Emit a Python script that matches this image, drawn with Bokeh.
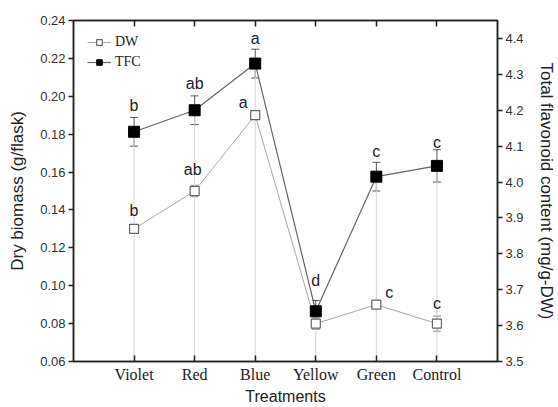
from bokeh.plotting import figure
from bokeh.models import (Range1d, LinearAxis, FixedTicker, Legend, LegendItem,
                          ColumnDataSource, Whisker, TeeHead, PrintfTickFormatter)
from bokeh.embed import file_html
from bokeh.resources import INLINE
from bokeh.core.properties import value

# ---------------- data ----------------
treatments = ["Violet", "Red", "Blue", "Yellow", "Green", "Control"]
dw = [0.130, 0.150, 0.190, 0.080, 0.090, 0.080]
dw_err = [0.002, 0.003, 0.002, 0.003, 0.002, 0.004]
tfc = [4.14, 4.20, 4.33, 3.64, 4.015, 4.045]
tfc_err = [0.04, 0.04, 0.04, 0.03, 0.04, 0.045]
dw_letters = ["b", "ab", "a", "", "c", "c"]
tfc_letters = ["b", "ab", "a", "d", "c", "c"]
left_ticks = [0.06, 0.08, 0.10, 0.12, 0.14, 0.16, 0.18, 0.20, 0.22, 0.24]
right_ticks = [3.5, 3.6, 3.7, 3.8, 3.9, 4.0, 4.1, 4.2, 4.3, 4.4]

# label offsets (styling, px)
dw_lab_dx = [0, -2, -12, 0, 13, 0]
dw_lab_dy = [-18, -22, -13, 0, -12, -20]
tfc_lab_dy = [-26, -27, -25, -31, -25, -23]

xs = list(range(1, len(treatments) + 1))

src = ColumnDataSource(dict(
    x=xs, dw=dw, tfc=tfc,
    dw_lo=[v - e for v, e in zip(dw, dw_err)], dw_hi=[v + e for v, e in zip(dw, dw_err)],
    tfc_lo=[v - e for v, e in zip(tfc, tfc_err)], tfc_hi=[v + e for v, e in zip(tfc, tfc_err)],
    base=[3.5] * len(xs),
    dw_lab=dw_letters, tfc_lab=tfc_letters,
    dw_dx=dw_lab_dx, dw_dy=dw_lab_dy, tfc_dy=tfc_lab_dy,
))

p = figure(width=558, height=407, output_backend="svg", toolbar_location=None,
           x_range=Range1d(0, 7), y_range=Range1d(0.06, 0.24),
           min_border_left=73, min_border_right=58, min_border_top=20, min_border_bottom=44)
p.extra_y_ranges = {"tfc": Range1d(3.5, 4.45)}
p.xgrid.visible = False
p.ygrid.visible = False
p.outline_line_color = "#222222"
p.outline_line_width = 1.5
p.background_fill_color = "white"
p.border_fill_color = "white"

axis_color = "#222222"
sans = "Liberation Sans"
serif = "Liberation Serif"

# bottom axis
xa = p.xaxis[0]
xa.ticker = FixedTicker(ticks=xs)
xa.major_label_overrides = {i: t for i, t in zip(xs, treatments)}
xa.major_tick_in = 6
xa.major_tick_out = 0
xa.minor_tick_line_color = None
xa.axis_line_width = 1.5
xa.axis_line_color = axis_color
xa.major_tick_line_color = axis_color
xa.major_tick_line_width = 1.5
xa.major_label_text_font = serif
xa.major_label_text_font_size = "16px"
xa.major_label_text_color = "#222222"
xa.major_label_standoff = 4
xa.axis_label = "Treatments"
xa.axis_label_text_font = sans
xa.axis_label_text_font_style = "normal"
xa.axis_label_text_font_size = "16px"
xa.axis_label_text_color = "#222222"
xa.axis_label_standoff = 2

# left axis
ya = p.yaxis[0]
ya.ticker = FixedTicker(ticks=left_ticks)
ya.formatter = PrintfTickFormatter(format="%.2f")
ya.major_tick_in = 0
ya.major_tick_out = 5
ya.minor_tick_line_color = None
ya.axis_line_width = 1.5
ya.axis_line_color = axis_color
ya.major_tick_line_color = axis_color
ya.major_tick_line_width = 1.5
ya.major_label_text_font = sans
ya.major_label_text_font_size = "13px"
ya.major_label_text_color = "#333333"
ya.major_label_standoff = 3
ya.axis_label = "Dry biomass (g/flask)"
ya.axis_label_text_font = sans
ya.axis_label_text_font_style = "normal"
ya.axis_label_text_font_size = "17px"
ya.axis_label_text_color = "#222222"
ya.axis_label_standoff = 10

# right axis
ra = LinearAxis(y_range_name="tfc", ticker=FixedTicker(ticks=right_ticks),
                formatter=PrintfTickFormatter(format="%.1f"))
ra.major_tick_in = 0
ra.major_tick_out = 5
ra.minor_tick_line_color = None
ra.axis_line_width = 1.5
ra.axis_line_color = axis_color
ra.major_tick_line_color = axis_color
ra.major_tick_line_width = 1.5
ra.major_label_text_font = sans
ra.major_label_text_font_size = "13px"
ra.major_label_text_color = "#333333"
ra.major_label_standoff = 3
ra.axis_label = "Total flavonoid content (mg/g-DW)"
ra.axis_label_text_font = sans
ra.axis_label_text_font_style = "normal"
ra.axis_label_text_font_size = "17px"
ra.axis_label_text_color = "#222222"
ra.axis_label_standoff = 10
p.add_layout(ra, "right")

# top axis (ticks only)
ta = LinearAxis(ticker=FixedTicker(ticks=xs))
ta.major_tick_in = 6
ta.major_tick_out = 0
ta.minor_tick_line_color = None
ta.axis_line_width = 1.5
ta.axis_line_color = axis_color
ta.major_tick_line_color = axis_color
ta.major_tick_line_width = 1.5
ta.major_label_text_font_size = "0px"
ta.major_label_text_alpha = 0
p.add_layout(ta, "above")

# drop lines
p.segment(x0="x", y0="base", x1="x", y1="tfc", source=src, y_range_name="tfc",
          line_color="#d4d4d4", line_width=1)

# error bars
w_dw = Whisker(base="x", lower="dw_lo", upper="dw_hi", source=src,
               line_color="#888888", line_width=1,
               upper_head=TeeHead(size=8, line_color="#888888", line_width=1),
               lower_head=TeeHead(size=8, line_color="#888888", line_width=1))
p.add_layout(w_dw)
w_tfc = Whisker(base="x", lower="tfc_lo", upper="tfc_hi", source=src, y_range_name="tfc",
                line_color="#555555", line_width=1,
                upper_head=TeeHead(size=8, line_color="#555555", line_width=1),
                lower_head=TeeHead(size=8, line_color="#555555", line_width=1))
p.add_layout(w_tfc)

# series
l_dw = p.line("x", "dw", source=src, line_color="#a8a8a8", line_width=1)
m_dw = p.scatter("x", "dw", source=src, marker="square", size=9,
                 fill_color="white", line_color="#666666", line_width=1.2)
l_tfc = p.line("x", "tfc", source=src, y_range_name="tfc", line_color="#666666", line_width=1.2)
m_tfc = p.scatter("x", "tfc", source=src, y_range_name="tfc", marker="square", size=11,
                  fill_color="black", line_color="black")

# significance letters
p.text("x", "dw", text="dw_lab", source=src, x_offset="dw_dx", y_offset="dw_dy",
       text_align="center", text_baseline="middle", text_font=value(sans),
       text_font_size="16px", text_color="#222222")
p.text("x", "tfc", text="tfc_lab", source=src, y_range_name="tfc", y_offset="tfc_dy",
       text_align="center", text_baseline="middle", text_font=value(sans),
       text_font_size="16px", text_color="#222222")

legend = Legend(items=[LegendItem(label="DW", renderers=[l_dw, m_dw]),
                       LegendItem(label="TFC", renderers=[l_tfc, m_tfc])],
                location="top_left", margin=14, padding=0, spacing=4,
                glyph_width=24, glyph_height=14, label_height=14,
                label_text_font=serif, label_text_font_size="14px",
                label_text_color="#222222", label_standoff=4,
                border_line_color=None, background_fill_alpha=0)
p.add_layout(legend)

open("out.html", "w").write(file_html(p, INLINE))
